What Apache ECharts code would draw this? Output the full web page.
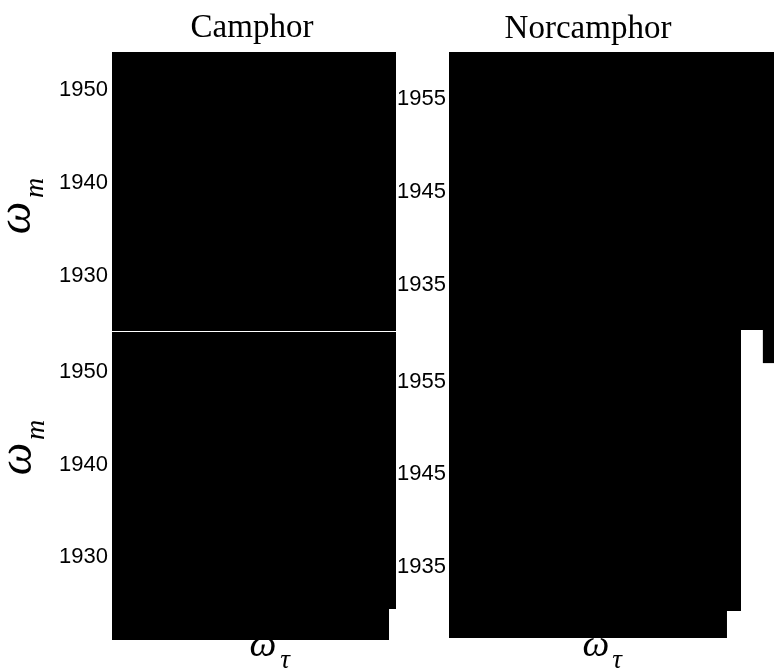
<!DOCTYPE html>
<html>
<head>
<meta charset="utf-8">
<script src="https://cdn.jsdelivr.net/npm/echarts@6/dist/echarts.min.js"></script>
<style>
html,body{margin:0;padding:0;background:#ffffff;}
#chart{width:774px;height:672px;}
</style>
</head>
<body>
<div id="chart"></div>
<script>
// ---- data (cm^-1) ----
const panelTitles = ['Camphor', 'Norcamphor'];
const yTicksCamphor = [1930, 1940, 1950];
const yTicksNorcamphor = [1935, 1945, 1955];

// axis extents of each panel
const xRangeCamphor = [1924, 1954.5];
const xRangeNorTop = [1928, 1963];
const xRangeNorBottom = [1928, 1959.45];
const yRangeCamphorTop = [1924.1, 1954.1];
const yRangeCamphorBottom = [1924.4, 1954.3];
const yRangeNorTop = [1930.16, 1960.05];
const yRangeNorBottom = [1930.24, 1960.6];

// filled (saturated) spectrum regions: [xStart, xEnd, yStart, yEnd]
const regionsCamphorTop = [[1924, 1954.5, 1924.1, 1954.1]];
const regionsCamphorBottom = [[1924, 1954.5, 1924.4, 1954.3], [1924, 1953.75, 1921.05, 1924.4]];
const regionsNorTop = [[1928, 1964, 1930.16, 1960.05], [1961.8, 1964, 1926.6, 1930.16]];
const regionsNorBottom = [[1928, 1959.45, 1930.24, 1960.6], [1928, 1957.94, 1927.32, 1930.24]];

// ---- chart ----
const chart = echarts.init(document.getElementById('chart'), null, {renderer: 'canvas'});

const grids = [
  {left: 112, top: 52, width: 284, height: 279},
  {left: 112, top: 332, width: 284, height: 277},
  {left: 449, top: 52, width: 325, height: 278},
  {left: 449, top: 330, width: 292, height: 281}
];
const xRanges = [xRangeCamphor, xRangeCamphor, xRangeNorTop, xRangeNorBottom];
const yRanges = [yRangeCamphorTop, yRangeCamphorBottom, yRangeNorTop, yRangeNorBottom];
const yTicks = [yTicksCamphor, yTicksCamphor, yTicksNorcamphor, yTicksNorcamphor];
const regions = [regionsCamphorTop, regionsCamphorBottom, regionsNorTop, regionsNorBottom];

function renderRegion(params, api) {
  const a = api.coord([api.value(0), api.value(3)]);
  const b = api.coord([api.value(1), api.value(2)]);
  return {
    type: 'rect',
    shape: {x: a[0], y: a[1], width: b[0] - a[0], height: b[1] - a[1]},
    style: {fill: '#000000'}
  };
}

function italicText(txt, size, x, y, rotated) {
  return {
    type: 'text', x: x, y: y, rotation: rotated ? Math.PI / 2 : 0,
    style: {
      text: txt, fill: '#000', align: 'center', verticalAlign: 'middle',
      font: 'italic ' + size + 'px "Liberation Serif", "DejaVu Serif", serif'
    }
  };
}

const option = {
  backgroundColor: '#ffffff',
  animation: false,
  title: [
    {text: panelTitles[0], left: 252, top: 28, textAlign: 'center', textVerticalAlign: 'middle', padding: 0,
     textStyle: {fontFamily: 'Liberation Serif', fontSize: 33, fontWeight: 'normal', color: '#000'}},
    {text: panelTitles[1], left: 588, top: 29, textAlign: 'center', textVerticalAlign: 'middle', padding: 0,
     textStyle: {fontFamily: 'Liberation Serif', fontSize: 33, fontWeight: 'normal', color: '#000'}}
  ],
  grid: grids,
  xAxis: xRanges.map((r, i) => ({
    type: 'value', gridIndex: i, min: r[0], max: r[1], show: false
  })),
  yAxis: yRanges.map((r, i) => ({
    type: 'value', gridIndex: i, min: r[0], max: r[1],
    axisLine: {show: false}, axisTick: {show: false}, splitLine: {show: false},
    axisLabel: {
      customValues: yTicks[i], margin: i < 2 ? 4 : 3,
      formatter: v => String(v),
      fontFamily: 'Liberation Sans', fontSize: 22, color: '#000',
      showMinLabel: true, showMaxLabel: true, hideOverlap: false
    }
  })),
  series: regions.map((d, i) => ({
    type: 'custom', xAxisIndex: i, yAxisIndex: i,
    dimensions: ['x0', 'x1', 'y0', 'y1'],
    encode: {x: [0, 1], y: [2, 3]},
    renderItem: renderRegion, clip: false, silent: true,
    data: d
  })),
  graphic: [
    italicText('ω', 46, 18, 218, true),
    italicText('m', 28, 36, 188, true),
    italicText('ω', 46, 19, 459, true),
    italicText('m', 28, 37, 430, true),
    italicText('ω', 38, 263, 646, false),
    italicText('τ', 27, 285, 661, false),
    italicText('ω', 38, 596, 646, false),
    italicText('τ', 27, 617, 661, false)
  ]
};
chart.setOption(option);
</script>
</body>
</html>
